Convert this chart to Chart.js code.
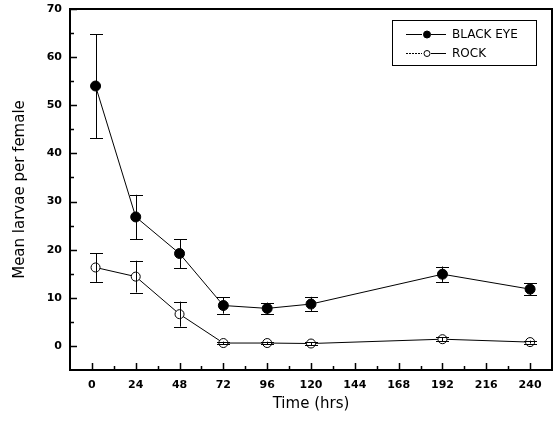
<!DOCTYPE html>
<html>
<head>
<meta charset="utf-8">
<script src="https://cdn.jsdelivr.net/npm/chart.js@4"></script>
<style>
  html, body { margin: 0; padding: 0; background: #fff; }
  #wrap { width: 560px; height: 423px; }
</style>
</head>
<body>
<div id="wrap"><canvas id="chart" width="560" height="423"></canvas></div>
<script>
/* ─── Data ───────────────────────────────────────────────────────────────── */
const TIMES         = [2, 24, 48, 72, 96, 120, 192, 240];
const BLACK_EYE     = [54.0, 26.8, 19.2, 8.4, 7.8, 8.7, 14.9, 11.8];
const BLACK_EYE_ERR = [10.8, 4.6, 3.0, 1.7, 1.2, 1.5, 1.6, 1.2];
const ROCK          = [16.3, 14.4, 6.6, 0.6, 0.6, 0.5, 1.4, 0.8];
const ROCK_ERR      = [3.0, 3.3, 2.6, 0.3, 0.3, 0.3, 0.4, 0.3];

const X_TICKS       = [0, 24, 48, 72, 96, 120, 144, 168, 192, 216, 240];
const X_MINOR       = [12, 36, 60, 84, 108, 132, 156, 180, 204, 228];
const Y_TICKS       = [0, 10, 20, 30, 40, 50, 60, 70];
const Y_MINOR       = [5, 15, 25, 35, 45, 55, 65];

const FONT = '"DejaVu Sans", Verdana, sans-serif';

/* ─── Helpers ────────────────────────────────────────────────────────────── */
function toPoints(ys, errs) {
  return TIMES.map((t, i) => ({ x: t, y: ys[i], err: errs[i] }));
}

/* frame + inward ticks */
const framePlugin = {
  id: 'frame',
  afterDatasetsDraw(chart) {
    const { ctx, chartArea: a, scales: { x, y } } = chart;
    ctx.save();
    ctx.strokeStyle = '#000';
    ctx.lineWidth = 1.5;
    ctx.beginPath();
    X_TICKS.forEach(v => { const p = Math.round(x.getPixelForValue(v)) + 0.5; ctx.moveTo(p, a.bottom); ctx.lineTo(p, a.bottom - 7); });
    X_MINOR.forEach(v => { const p = Math.round(x.getPixelForValue(v)) + 0.5; ctx.moveTo(p, a.bottom); ctx.lineTo(p, a.bottom - 4); });
    Y_TICKS.forEach(v => { const p = Math.round(y.getPixelForValue(v)) + 0.5; ctx.moveTo(a.left, p); ctx.lineTo(a.left + 7, p); });
    Y_MINOR.forEach(v => { const p = Math.round(y.getPixelForValue(v)) + 0.5; ctx.moveTo(a.left, p); ctx.lineTo(a.left + 4, p); });
    ctx.stroke();
    ctx.lineWidth = 2;
    ctx.strokeRect(a.left, a.top, a.right - a.left, a.bottom - a.top);
    ctx.restore();
  }
};

/* vertical error bars, drawn over the markers */
const errorBarPlugin = {
  id: 'errorBars',
  afterDatasetsDraw(chart) {
    const { ctx, scales: { x, y } } = chart;
    ctx.save();
    ctx.strokeStyle = '#000';
    ctx.lineWidth = 1;
    chart.data.datasets.forEach(ds => {
      ds.data.forEach(pt => {
        const px = Math.round(x.getPixelForValue(pt.x)) + 0.5;
        const top = y.getPixelForValue(pt.y + pt.err);
        const bot = y.getPixelForValue(pt.y - pt.err);
        ctx.beginPath();
        ctx.moveTo(px, top); ctx.lineTo(px, bot);
        ctx.moveTo(px - 6.5, Math.round(top) + 0.5); ctx.lineTo(px + 6.5, Math.round(top) + 0.5);
        ctx.moveTo(px - 6.5, Math.round(bot) + 0.5); ctx.lineTo(px + 6.5, Math.round(bot) + 0.5);
        ctx.stroke();
      });
    });
    ctx.restore();
  }
};

/* boxed legend, top right */
const legendBoxPlugin = {
  id: 'legendBox',
  afterDraw(chart) {
    const { ctx } = chart;
    ctx.save();
    ctx.strokeStyle = '#000';
    ctx.lineWidth = 1;
    ctx.strokeRect(392.5, 20.5, 144, 45);
    ctx.font = '12px ' + FONT;
    ctx.textBaseline = 'middle';
    ctx.fillStyle = '#000';
    chart.data.datasets.forEach((ds, i) => {
      const yy = 34.5 + i * 19;
      ctx.beginPath();
      ctx.setLineDash(i === 1 ? [2, 1] : []);
      ctx.moveTo(406, yy); ctx.lineTo(422, yy);
      ctx.stroke();
      ctx.setLineDash([]);
      ctx.beginPath();
      ctx.moveTo(431, yy); ctx.lineTo(446, yy);
      ctx.stroke();
      ctx.beginPath();
      ctx.arc(427, yy, i === 0 ? 3.5 : 3, 0, Math.PI * 2);
      ctx.fillStyle = ds.pointBackgroundColor;
      ctx.fill();
      ctx.stroke();
      ctx.fillStyle = '#000';
      ctx.fillText(ds.label, 452, yy + 0.5);
    });
    ctx.restore();
  }
};

/* ─── Chart ──────────────────────────────────────────────────────────────── */
new Chart(document.getElementById('chart'), {
  type: 'scatter',
  data: {
    datasets: [
      {
        label: 'BLACK EYE',
        data: toPoints(BLACK_EYE, BLACK_EYE_ERR),
        showLine: true,
        borderColor: '#000',
        borderWidth: 1,
        pointRadius: 5,
        pointBackgroundColor: '#000',
        pointBorderColor: '#000',
        pointBorderWidth: 1
      },
      {
        label: 'ROCK',
        data: toPoints(ROCK, ROCK_ERR),
        showLine: true,
        borderColor: '#000',
        borderWidth: 1,
        pointRadius: 4.5,
        pointBackgroundColor: '#fff',
        pointBorderColor: '#000',
        pointBorderWidth: 1
      }
    ]
  },
  options: {
    responsive: false,
    animation: false,
    layout: { padding: { top: 9, right: 8, left: 0, bottom: 0 } },
    plugins: { legend: { display: false }, tooltip: { enabled: false } },
    scales: {
      x: {
        type: 'linear',
        min: -12,
        max: 252,
        afterBuildTicks: s => { s.ticks = X_TICKS.map(v => ({ value: v })); },
        afterFit: s => { s.height = 53; },
        grid: { display: false },
        border: { display: false },
        ticks: { color: '#000', padding: 1, maxRotation: 0, font: { family: FONT, size: 11, weight: 'bold' } },
        title: { display: true, text: 'Time (hrs)', color: '#000', padding: { bottom: 10 }, font: { family: FONT, size: 15 } }
      },
      y: {
        min: -5,
        max: 70,
        afterBuildTicks: s => { s.ticks = Y_TICKS.map(v => ({ value: v })); },
        afterFit: s => { s.width = 70; },
        grid: { display: false },
        border: { display: false },
        ticks: { color: '#000', padding: 0, font: { family: FONT, size: 11, weight: 'bold' } },
        title: { display: true, text: 'Mean larvae per female', color: '#000', padding: { top: 11 }, font: { family: FONT, size: 15 } }
      }
    }
  },
  plugins: [errorBarPlugin, framePlugin, legendBoxPlugin]
});
</script>
</body>
</html>
